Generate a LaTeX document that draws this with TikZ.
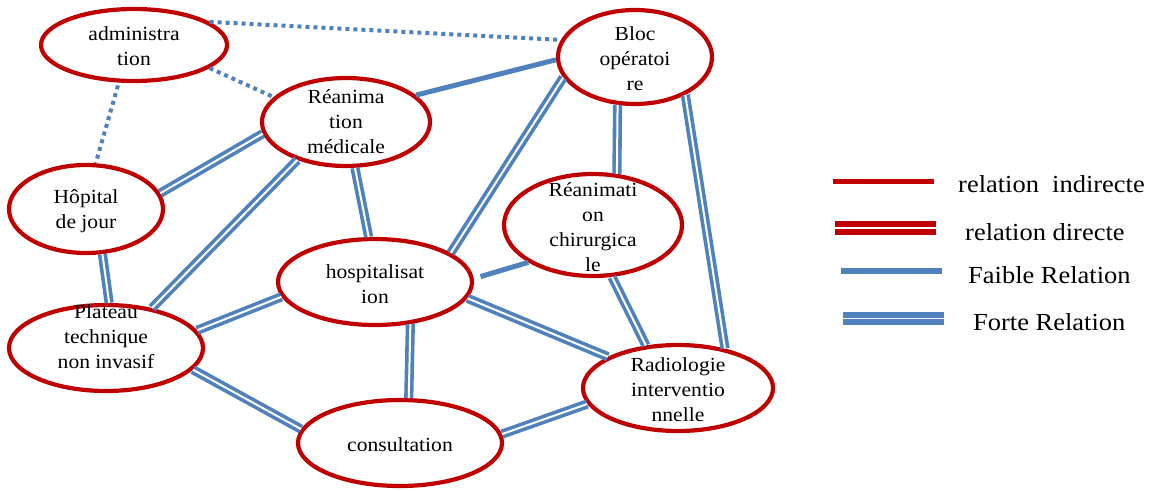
\documentclass[tikz,border=0pt]{standalone}
\usepackage{fontspec}
\setmainfont{Liberation Serif}[FakeStretch=1.08]
\usetikzlibrary{shapes.geometric}
\definecolor{bordred}{HTML}{C00000}
\definecolor{linkblue}{HTML}{4F81BD}
\begin{document}
\begin{tikzpicture}[x=1pt,y=-1pt,
  bubble/.style={ellipse, draw=bordred, line width=4.2pt, fill=white, inner sep=0pt},
  nodetext/.style={align=center, font=\fontsize{20}{25}\selectfont, inner sep=0pt},
  faible/.style={draw=linkblue, line width=5pt},
  forte/.style={draw=linkblue, line width=3.6pt, double=white, double distance=2pt},
  indirect/.style={draw=linkblue, line width=4pt, dash pattern=on 4pt off 4pt},
  legtext/.style={anchor=base west, font=\fontsize{24.5}{28}\selectfont, inner sep=0pt}
]
\useasboundingbox (0,0) rectangle (1154,490);
\fill[white] (0,0) rectangle (1154,490);

% services
\node[bubble, minimum width=186pt, minimum height=72pt]  (admin) at (134,45)  {};
\node[bubble, minimum width=154pt, minimum height=94pt]  (bloc)  at (635,57)  {};
\node[bubble, minimum width=168pt, minimum height=88pt]  (ream)  at (346,122) {};
\node[bubble, minimum width=154pt, minimum height=88pt]  (hdj)   at (86,209)  {};
\node[bubble, minimum width=178pt, minimum height=102pt] (reac)  at (593,225) {};
\node[bubble, minimum width=194pt, minimum height=86pt]  (hosp)  at (375,282) {};
\node[bubble, minimum width=194pt, minimum height=86pt]  (plat)  at (106,348) {};
\node[bubble, minimum width=204pt, minimum height=86pt]  (cons)  at (400,443) {};
\node[bubble, minimum width=190pt, minimum height=86pt]  (radio) at (678,388) {};

% indirect links (dotted)
\draw[indirect] (admin.17.5) -- (bloc.167);
\draw[indirect] (admin.-17) -- (ream.161);
\draw[indirect, shorten <=3pt] (admin.-112) -- (hdj.78);

% weak links
\draw[faible] (ream.21) -- (bloc.182);
\draw[faible, shorten <=7pt] (hosp.2) -- (reac.-150);

% strong links
\draw[forte] (ream.-172) -- (hdj.12);
\draw[forte] (ream.-142) -- (plat.41);
\draw[forte] (ream.-79) -- (hosp.98);
\draw[forte] (bloc.-164) -- (hosp.21);
\draw[forte] (bloc.-110) -- (reac.65);
\draw[forte] (bloc.-37) -- (radio.40);
\draw[forte] (hdj.-70) -- (plat.86);
\draw[forte] (plat.11) -- (hosp.-171);
\draw[forte] (plat.-14) -- (cons.172);
\draw[forte] (hosp.-50) -- (cons.79);
\draw[forte] (hosp.-10) -- (radio.156);
\draw[forte] (reac.-70) -- (radio.127);
\draw[forte] (cons.5.5) -- (radio.-170);

% service names
\node[nodetext] (admin-t) at ([yshift=-1.5pt]admin.center) {administra\\tion};
\node[nodetext] (bloc-t)  at ([yshift=-2pt]bloc.center) {Bloc\\opératoi\\re};
\node[nodetext] (ream-t)  at (ream.center) {Réanima\\tion\\médicale};
\node[nodetext] (hdj-t)   at ([yshift=-2pt]hdj.center) {Hôpital\\de jour};
\node[nodetext] (reac-t)  at ([yshift=-2.5pt]reac.center) {Réanimati\\on\\chirurgica\\le};
\node[nodetext] (hosp-t)  at ([yshift=-2.5pt]hosp.center) {hospitalisat\\ion};
\node[nodetext] (plat-t)  at ([yshift=11pt]plat.center) {Plateau\\technique\\non invasif};
\node[nodetext] (cons-t)  at ([yshift=-2pt]cons.center) {consultation};
\node[nodetext] (radio-t) at ([yshift=-2pt]radio.center) {Radiologie\\interventio\\nnelle};

% legend
\draw[bordred, line width=5pt] (833,181.5) -- (934,181.5);
\draw[bordred, line width=6pt, double=white, double distance=2pt] (835,228) -- (936,228);
\draw[linkblue, line width=6pt] (841,271) -- (942,271);
\draw[linkblue, line width=5.5pt, double=white, double distance=1.8pt] (843,318.5) -- (944,318.5);
\node[legtext] (leg1) at (958,192) {relation\ \ indirecte};
\node[legtext] (leg2) at (965,240) {relation directe};
\node[legtext] (leg3) at (968,283) {Faible Relation};
\node[legtext] (leg4) at (973,330) {Forte Relation};
\end{tikzpicture}
\end{document}
